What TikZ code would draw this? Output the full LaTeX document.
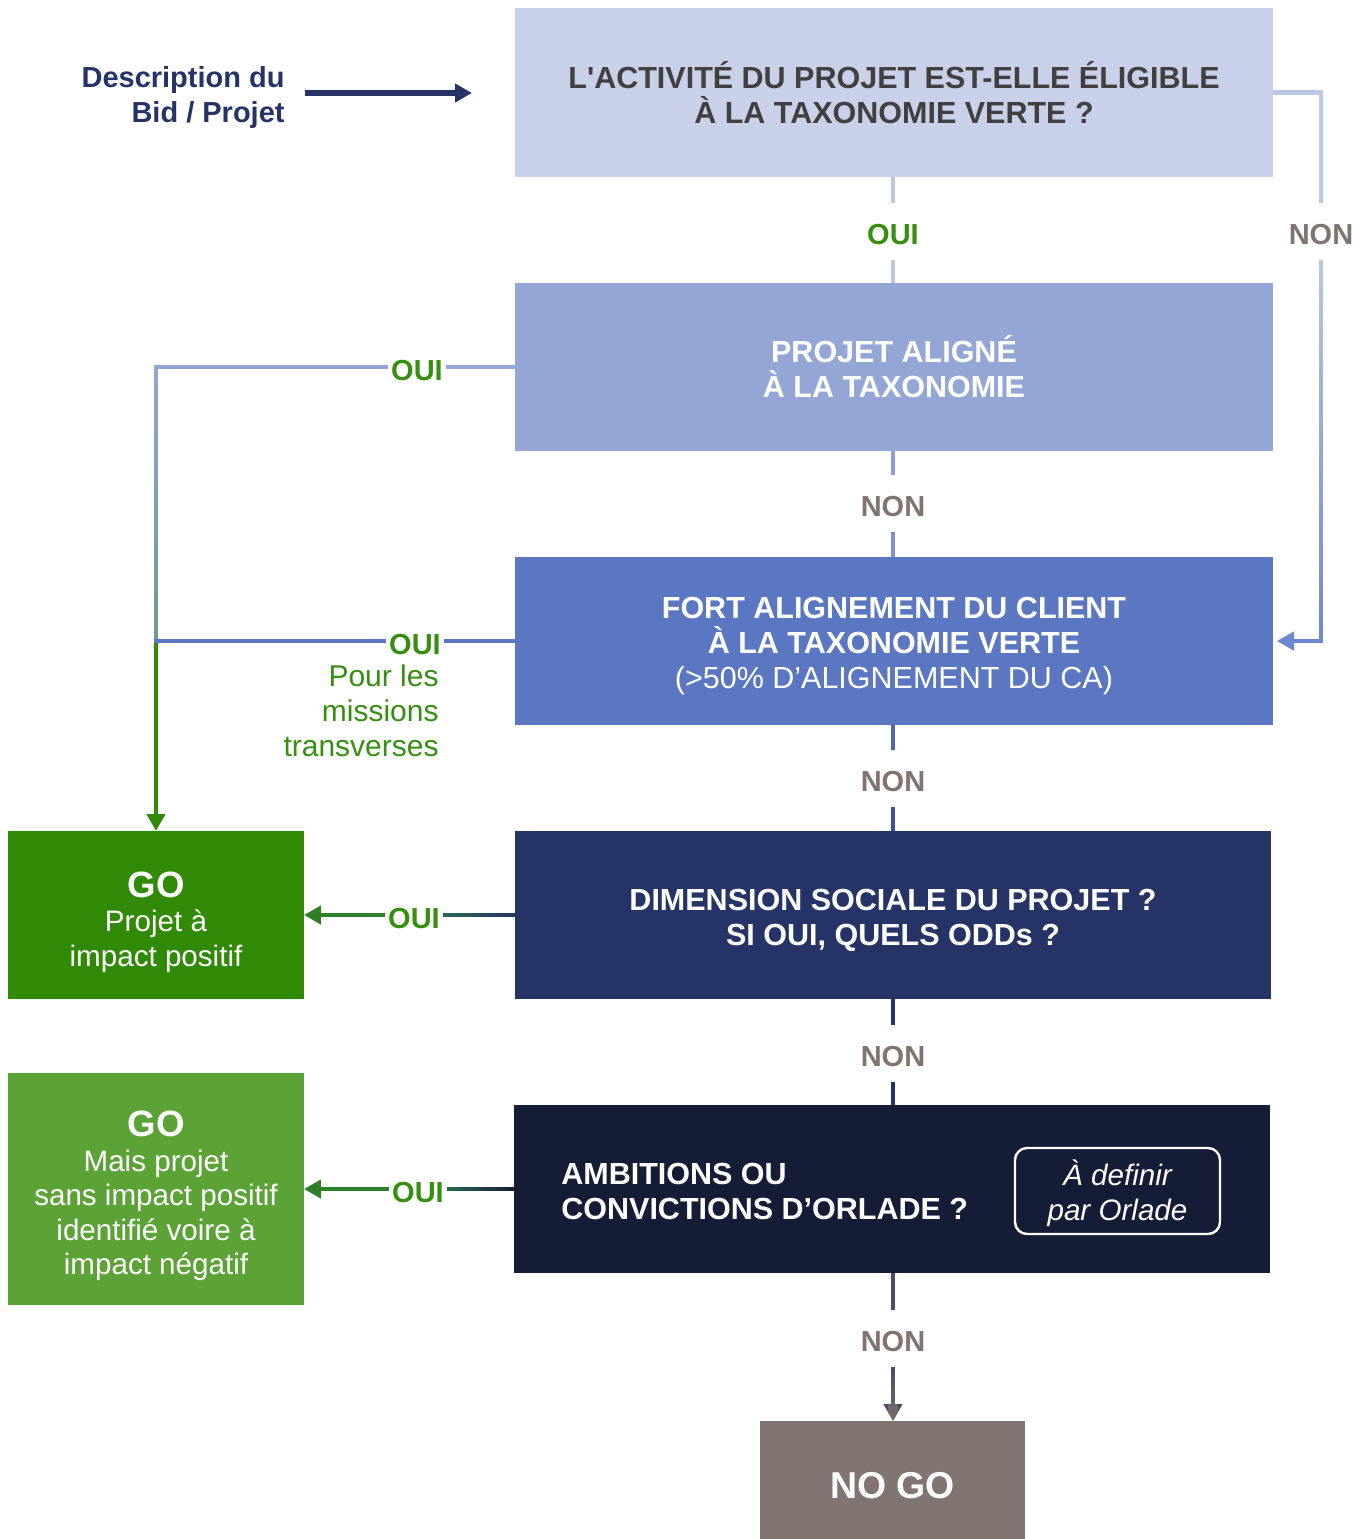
\documentclass[tikz,border=0pt]{standalone}
\usepackage{fontspec}
\setmainfont{Liberation Sans}
\newfontfamily\af{Liberation Sans}
\usetikzlibrary{arrows.meta,fadings,calc}
\definecolor{cB1}{HTML}{C8D0EA}
\definecolor{cB2}{HTML}{93A6D6}
\definecolor{cB3}{HTML}{5C77C2}
\definecolor{cB4}{HTML}{253366}
\definecolor{cB5}{HTML}{151C36}
\definecolor{cGo1}{HTML}{318A05}
\definecolor{cGo2}{HTML}{5BA336}
\definecolor{cNoGo}{HTML}{827470}
\definecolor{cT1}{HTML}{404040}
\definecolor{cOui}{HTML}{368F10}
\definecolor{cNon}{HTML}{807470}
\definecolor{cL1}{HTML}{BCC7E6}
\definecolor{cR2}{HTML}{6F87CC}
\definecolor{cTealG}{HTML}{6F9C90}
\definecolor{cTeal}{HTML}{2A6A55}
\definecolor{cGoLine}{HTML}{2E7F2A}
\definecolor{cN2a}{HTML}{8C9FD5}
\definecolor{cN2b}{HTML}{7C92D0}
\definecolor{cN3a}{HTML}{4F67B2}
\definecolor{cN3b}{HTML}{3C5299}
\definecolor{cN5a}{HTML}{4C4C6A}
\definecolor{cN5b}{HTML}{776C6E}
\tikzfading[name=fadeS, top color=transparent!100, bottom color=transparent!0]
\tikzfading[name=fadeW, left color=transparent!0, right color=transparent!100]
\begin{document}
\begin{tikzpicture}[x=0.5pt,y=-0.5pt,
  box/.style={rectangle, inner sep=0pt, outer sep=0pt, minimum width=379pt,
    minimum height=84.5pt, align=center, text=white,
    font=\af\fontsize{15.25}{17.5}\selectfont\bfseries},
  boxtext/.style={align=center, inner sep=0pt, text=white,
    font=\af\fontsize{15.25}{17.5}\selectfont\bfseries},
  gobox/.style={rectangle, inner sep=0pt, outer sep=0pt, minimum width=148pt},
  gotext/.style={align=center, text=white, inner sep=0pt, font=\af\fontsize{14.8}{17.25}\selectfont},
  lab/.style={inner xsep=1.5pt, inner ysep=0pt, outer sep=0pt,
    text height=13.4pt, text depth=0pt,
    font=\af\fontsize{14.5}{17}\selectfont\bfseries},
  vlab/.style={lab, minimum height=28.5pt},
  ouilab/.style={lab, text=cOui},
  nonlab/.style={vlab, text=cNon},
  conn/.style={line width=2.3pt},
  tip/.style={-{Triangle[length=8.5pt,width=9pt]}}
]
\useasboundingbox (0,0) rectangle (1368,1539);
% boxes
\node[box, fill=cB1, text=cT1] (b1) at (894,92.5) {L'ACTIVITÉ DU PROJET EST-ELLE ÉLIGIBLE\\À LA TAXONOMIE VERTE ?};
\node[box, fill=cB2, minimum height=84pt] (b2) at (894,367) {PROJET ALIGNÉ\\À LA TAXONOMIE};
\node[box, fill=cB3, minimum height=84pt] (b3) at (894,641) {};
\node[boxtext] (b3t) at (894,646) {FORT ALIGNEMENT DU CLIENT\\À LA TAXONOMIE VERTE\\{\mdseries (>50\% D’ALIGNEMENT DU CA)}};
\node[box, fill=cB4, minimum width=378pt, minimum height=84pt] (b4) at (893,915) {};
\node[boxtext] (b4t) at (893,920.5) {DIMENSION SOCIALE DU PROJET ?\\SI OUI, QUELS ODDs ?};
\node[box, fill=cB5, minimum width=378pt, minimum height=84pt] (b5) at (892,1189) {};
\node[anchor=west, align=left, text=white, inner sep=0pt, font=\af\fontsize{15.25}{17.5}\selectfont\bfseries] (t5) at (561,1191) {AMBITIONS OU\\CONVICTIONS D’ORLADE ?};
\node[draw=white, line width=1.2pt, rounded corners=6pt, minimum width=102.5pt, minimum height=43pt, inner sep=0pt] (def) at (1117.5,1191) {};
\node[align=center, text=white, inner sep=0pt, font=\af\fontsize{14.8}{17.5}\selectfont\itshape] (deft) at (1117.5,1193) {À definir\\par Orlade};
\node[gobox, fill=cGo1, minimum height=84pt] (go1) at (156,915) {};
\node[gotext] (go1t) at (156,922) {{\fontsize{18.3}{18.5}\selectfont\bfseries GO}\\Projet à\\impact positif};
\node[gobox, fill=cGo2, minimum height=116pt] (go2) at (156,1189) {};
\node[gotext] (go2t) at (156,1196) {{\fontsize{18.3}{18.5}\selectfont\bfseries GO}\\Mais projet\\sans impact positif\\identifié voire à\\impact négatif};
\node[rectangle, fill=cNoGo, inner sep=0pt, outer sep=0pt, minimum width=132.5pt, minimum height=65pt, text=white, font=\af\fontsize{18.7}{20}\selectfont\bfseries] (nogo) at (892.5,1486) {NO GO};
% description
\node[anchor=east, align=right, inner sep=0pt, text=cB4, font=\af\fontsize{14.5}{17.5}\selectfont\bfseries] (desc) at (285,97.5) {Description du\\Bid / Projet};
\coordinate (inB1) at (472,93);
\draw[line width=3pt, cB4, tip] ($(desc.east)+(20,-4.5)$) -- (inB1);
% labels
\node[ouilab, vlab] (o1) at (893,231.5) {OUI};
\node[nonlab] (n1) at (1321,231.5) {NON};
\node[nonlab] (n2) at (893,503.5) {NON};
\node[nonlab] (n3) at (893,778.5) {NON};
\node[nonlab] (n4) at (893,1053) {NON};
\node[nonlab] (n5) at (893,1338.5) {NON};
\node[ouilab] (o2) at (417,367) {OUI};
\node[ouilab] (o3) at (415,641) {OUI};
\node[ouilab] (o4) at (414,915) {OUI};
\node[ouilab] (o5) at (418,1189) {OUI};
\node[anchor=east, align=right, inner sep=0pt, text=cOui, font=\af\fontsize{15}{17.5}\selectfont] (pour) at (439,711) {Pour les\\missions\\transverses};
% vertical chain
\draw[conn, cL1] (b1.south -| o1) -- (o1.north);
\draw[conn, cL1] (o1.south) -- (b2.north -| o1);
\draw[conn, cN2a] (b2.south -| n2) -- (n2.north);
\draw[conn, cN2b] (n2.south) -- (b3.north -| n2);
\draw[conn, cN3a] (b3.south -| n3) -- (n3.north);
\draw[conn, cN3b] (n3.south) -- (b4.north -| n3);
\draw[conn, cB4] (b4.south -| n4) -- (n4.north);
\draw[conn, cB4] (n4.south) -- (b5.north -| n4);
\draw[conn, cN5a] (b5.south -| n5) -- (n5.north);
\draw[conn, cN5a, tip] (n5.south) -- (nogo.north -| n5);
\draw[conn, cN5b, tip, path fading=fadeS] (n5.south) -- (nogo.north -| n5);
% right NON path
\draw[conn, cL1] (b1.east) -| (n1.north);
\draw[conn, cL1, tip, shorten >=2pt] (n1.south) |- (b3.east);
\draw[conn, cR2, tip, shorten >=2pt, path fading=fadeS] (n1.south) |- (b3.east);
% left OUI paths
\coordinate (j) at (156,641);
\draw[conn, cGo1, tip] (j) -- (go1.north);
\draw[conn, cB2] (b2.west) -- (o2.east);
\draw[conn, cB2] (o2.west) -| (j);
\draw[conn, cTealG, path fading=fadeS] (o2.west) -| (j);
\draw[conn, cB3] (b3.west) -- (o3.east);
\draw[conn, cB3] (o3.west) -- ($(j)+(-2.3,0)$);
% bottom OUI arrows
\draw[conn, cB4] (b4.west) -- (o4.east);
\draw[conn, cTeal, path fading=fadeW] (b4.west) -- (o4.east);
\draw[conn, cGoLine, tip] (o4.west) -- (go1.east);
\draw[conn, cB5] (b5.west) -- (o5.east);
\draw[conn, cTeal, path fading=fadeW] (b5.west) -- (o5.east);
\draw[conn, cGoLine, tip] (o5.west) -- (go2.east |- o5);
\end{tikzpicture}
\end{document}
